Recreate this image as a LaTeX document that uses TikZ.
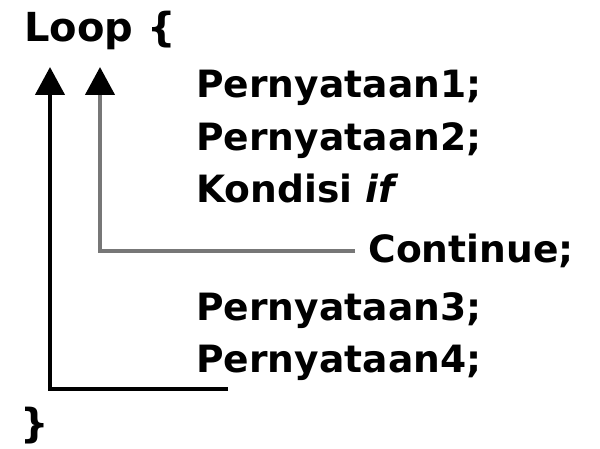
\documentclass[tikz,border=0pt]{standalone}
\usepackage{fontspec}
\setmainfont{DejaVu Sans}
\usetikzlibrary{arrows.meta}
\definecolor{linegray}{HTML}{777777}
\begin{document}
\begin{tikzpicture}[x=0.5pt,y=-0.5pt,
  txt/.style={anchor=base west, inner sep=0pt, font=\bfseries\fontsize{18.8}{22}\selectfont},
  bigtxt/.style={anchor=base west, inner sep=0pt, font=\bfseries\fontsize{20}{24}\selectfont},
  loopline/.style={line width=2.2pt, line join=miter, -{Triangle[width=14.5pt,length=14pt,color=black]}}]
\useasboundingbox (0,0) rectangle (600,449);
\node[bigtxt] (loop) at (24,42) {Loop \{};
\node[txt] (p1) at (196,98) {Pernyataan1;};
\node[txt] (p2) at (196,150) {Pernyataan2;};
\node[txt] (kond) at (196,202) {Kondisi \textit{if}};
\node[txt] (cont) at (368,263) {Continue;};
\node[txt] (p3) at (196,320) {Pernyataan3;};
\node[txt] (p4) at (196,372) {Pernyataan4;};
\node[bigtxt] (close) at (20,437) {\}};
\coordinate (t1) at (50,67);
\coordinate (c1) at (50,389);
\coordinate (e1) at (228,389);
\coordinate (t2) at (100,67);
\coordinate (c2) at (100,251);
\coordinate (e2) at (355,251);
\draw[loopline, draw=black] (e1) -- (c1) -- (t1);
\draw[loopline, draw=linegray] (e2) -- (c2) -- (t2);
\end{tikzpicture}
\end{document}
